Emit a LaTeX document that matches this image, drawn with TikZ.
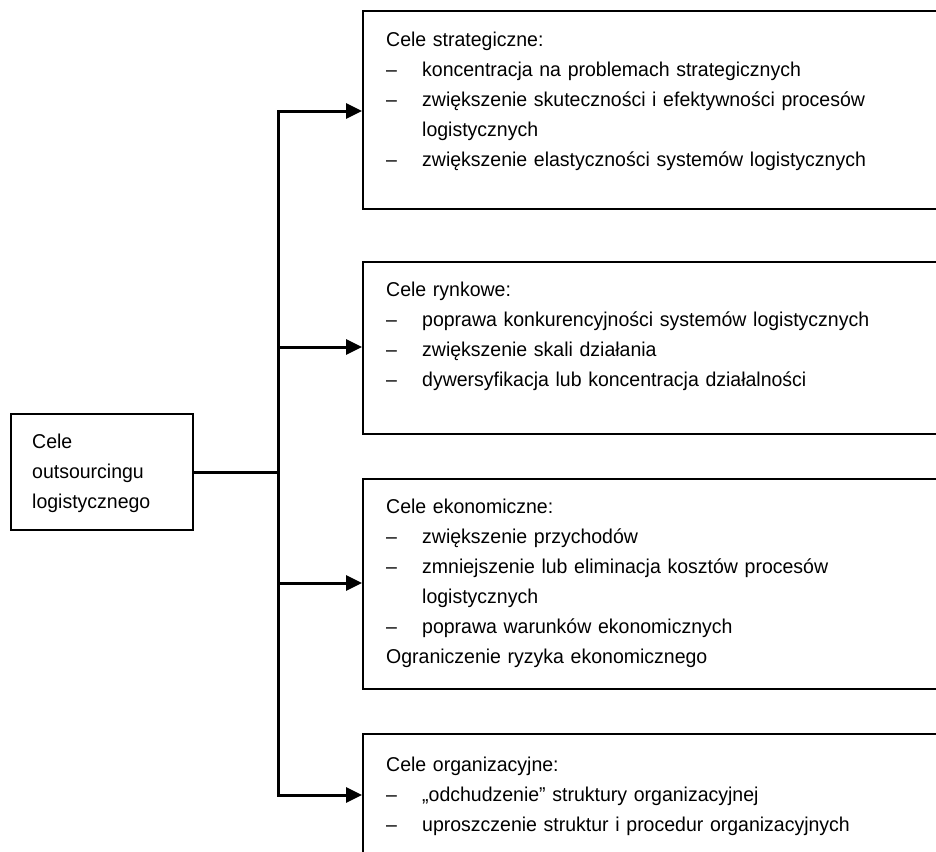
\documentclass[tikz,border=0pt]{standalone}
\usepackage{fontspec}
\setmainfont{Liberation Sans}[FakeStretch=0.975]
\usetikzlibrary{arrows.meta}
\tikzset{
  box/.style={draw=black, line width=2.4pt, anchor=north west, inner sep=0pt},
  txt/.style={anchor=north west, inner sep=0pt, align=left, text width=560pt,
    font=\fontsize{20}{30}\selectfont},
  conn/.style={line width=3pt, line cap=rect},
  arr/.style={line width=3pt, -{Triangle[length=16pt,width=15pt]}}
}
\newcommand{\dsh}{\makebox[36pt][l]{–}}
\newcommand{\ind}{\hspace*{36pt}}
\newcommand{\fst}{\rule{0pt}{16pt}}
\begin{document}
\begin{tikzpicture}[x=1pt,y=-1pt]
\useasboundingbox (0,0) rectangle (936,851);
\clip (0,0) rectangle (936,851);
\fill[white] (0,0) rectangle (936,851);
% boxes
\node[box, minimum width=182pt, minimum height=116pt] (src) at (10,413) {};
\node[box, minimum width=620pt, minimum height=198pt] (b1) at (362,10) {};
\node[box, minimum width=620pt, minimum height=172pt] (b2) at (362,261) {};
\node[box, minimum width=620pt, minimum height=210pt] (b3) at (362,478) {};
\node[box, minimum width=620pt, minimum height=150pt] (b4) at (362,733) {};
% texts
\node[txt] (tsrc) at (32,432) {\fst Cele\\outsourcingu\\logistycznego};
\node[txt] (t1) at (386,30) {\fst Cele strategiczne:\\
\dsh koncentracja na problemach strategicznych\\
\dsh zwiększenie skuteczności i efektywności procesów\\
\ind logistycznych\\
\dsh zwiększenie elastyczności systemów logistycznych};
\node[txt] (t2) at (386,280) {\fst Cele rynkowe:\\
\dsh poprawa konkurencyjności systemów logistycznych\\
\dsh zwiększenie skali działania\\
\dsh dywersyfikacja lub koncentracja działalności};
\node[txt] (t3) at (386,497) {\fst Cele ekonomiczne:\\
\dsh zwiększenie przychodów\\
\dsh zmniejszenie lub eliminacja kosztów procesów\\
\ind logistycznych\\
\dsh poprawa warunków ekonomicznych\\
Ograniczenie ryzyka ekonomicznego};
\node[txt] (t4) at (386,755) {\fst Cele organizacyjne:\\
\dsh „odchudzenie” struktury organizacyjnej\\
\dsh uproszczenie struktur i procedur organizacyjnych};
% connectors
\coordinate (tt) at (278,111);
\coordinate (tb) at (278,795);
\coordinate (j2) at (278,347);
\coordinate (j3) at (278,583);
\draw[conn] (src.east) -- (src.east -| tt);
\draw[conn] (tt) -- (tb);
\draw[arr] (tt) -- (tt -| b1.west);
\draw[arr] (j2) -- (j2 -| b2.west);
\draw[arr] (j3) -- (j3 -| b3.west);
\draw[arr] (tb) -- (tb -| b4.west);
\end{tikzpicture}
\end{document}
